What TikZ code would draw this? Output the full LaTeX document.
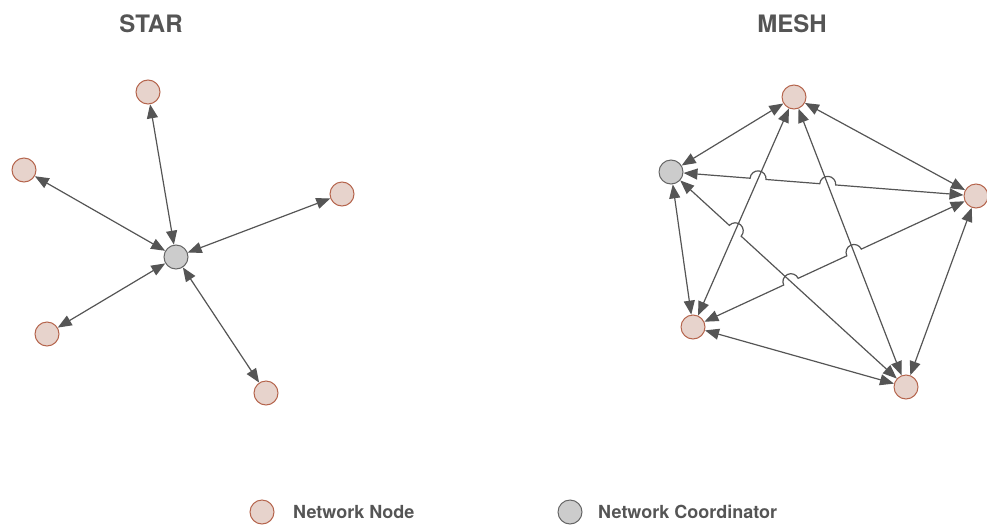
\documentclass[tikz,border=0pt]{standalone}
\usepackage{fontspec}
\setmainfont{TeX Gyre Heros}
\usetikzlibrary{arrows.meta,calc,intersections}

\definecolor{nodefill}{RGB}{231,211,204}
\definecolor{nodeline}{RGB}{181,101,77}
\definecolor{hubfill}{RGB}{204,204,204}
\definecolor{hubline}{RGB}{102,102,102}
\definecolor{linkgray}{RGB}{85,85,85}
\newcommand{\hoprad}{8pt}

\begin{document}
\begin{tikzpicture}[x=1pt,y=1pt,
    netnode/.style={circle, draw=nodeline, fill=nodefill, line width=1pt, minimum size=24pt, inner sep=0pt},
    hub/.style={circle, draw=hubline, fill=hubfill, line width=1pt, minimum size=24pt, inner sep=0pt},
    link/.style={{Triangle[length=14pt,width=11pt]}-{Triangle[length=14pt,width=11pt]}, draw=linkgray, line width=1.2pt},
    title/.style={font=\bfseries\fontsize{24}{28}\selectfont, text=linkgray},
    legend/.style={font=\bfseries\fontsize{18}{22}\selectfont, text=linkgray, anchor=west, inner sep=0pt}
  ]
  \useasboundingbox (0,0) rectangle (987,-525);

  % titles
  \node[title] (startitle) at (151,-24) {STAR};
  \node[title] (meshtitle) at (792,-24) {MESH};

  % star
  \node[hub] (s0) at (176,-257) {};
  \node[netnode] (s1) at (148,-92) {};
  \node[netnode] (s2) at (24,-170) {};
  \node[netnode] (s3) at (342,-194) {};
  \node[netnode] (s4) at (47,-334) {};
  \node[netnode] (s5) at (266,-393) {};
  \foreach \i in {1,...,5}
    \draw[link] (s0) -- (s\i);

  % mesh
  \node[netnode] (mt) at (794,-97) {};
  \node[hub] (mc) at (671,-172) {};
  \node[netnode] (mr) at (976,-196) {};
  \node[netnode] (mbl) at (693,-327) {};
  \node[netnode] (mbr) at (906,-387) {};

  \path[name path=tbl] (mt.center) -- (mbl.center);
  \path[name path=tbr] (mt.center) -- (mbr.center);
  \path[name path=cr] (mc.center) -- (mr.center);
  \path[name path=cbr] (mc.center) -- (mbr.center);
  \path[name path=blr] (mbl.center) -- (mr.center);
  \path[name intersections={of=cr and tbl, by=h1}];
  \path[name intersections={of=cr and tbr, by=h2}];
  \path[name intersections={of=cbr and tbl, by=h3}];
  \path[name intersections={of=blr and cbr, by=h4}];
  \path[name intersections={of=blr and tbr, by=h5}];

  \draw[link] (mt) -- (mc);
  \draw[link] (mt) -- (mr);
  \draw[link] (mt) -- (mbl);
  \draw[link] (mt) -- (mbr);
  \draw[link] (mc) -- (mbl);
  \draw[link] (mr) -- (mbr);
  \draw[link] (mbl) -- (mbr);

  % lines with hops
  \draw[link] let \p1=($(mr)-(mc)$), \n1={atan2(\y1,\x1)} in
    (mc) -- ($(h1)!\hoprad!(mc)$) arc[start angle=\n1+180, end angle=\n1, radius=\hoprad]
         -- ($(h2)!\hoprad!(mc)$) arc[start angle=\n1+180, end angle=\n1, radius=\hoprad]
         -- (mr);
  \draw[link] let \p1=($(mbr)-(mc)$), \n1={atan2(\y1,\x1)} in
    (mc) -- ($(h3)!\hoprad!(mc)$) arc[start angle=\n1+180, end angle=\n1, radius=\hoprad]
         -- (mbr);
  \draw[link] let \p1=($(mr)-(mbl)$), \n1={atan2(\y1,\x1)} in
    (mbl) -- ($(h4)!\hoprad!(mbl)$) arc[start angle=\n1+180, end angle=\n1, radius=\hoprad]
          -- ($(h5)!\hoprad!(mbl)$) arc[start angle=\n1+180, end angle=\n1, radius=\hoprad]
          -- (mr);

  % legend
  \node[netnode] (keynode) at (262,-512) {};
  \node[legend] (keynodetext) at (293,-512) {Network Node};
  \node[hub] (keyhub) at (570,-512) {};
  \node[legend] (keyhubtext) at (598,-512) {Network Coordinator};
\end{tikzpicture}
\end{document}
